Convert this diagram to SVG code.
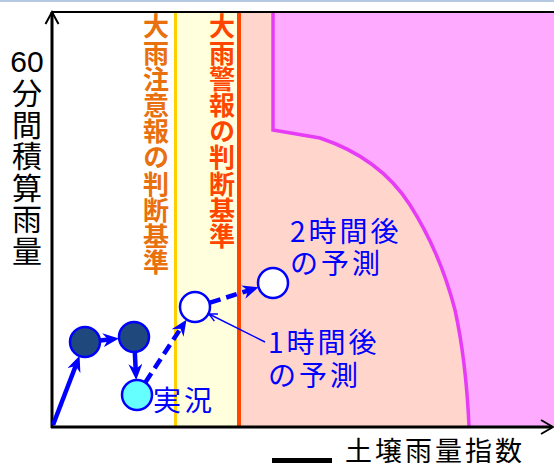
<svg xmlns="http://www.w3.org/2000/svg" width="554" height="463" viewBox="0 0 554 463">
<style>
.jp{font-family:"Noto Sans CJK JP","Noto Sans",sans-serif}
.blk{fill:#000}
.crit{font-size:26px;font-weight:bold;letter-spacing:0.2px}
.lbl{fill:#0000FF;font-size:28px;letter-spacing:3px}
.node{stroke:#0000FF;stroke-width:2.5}
.arr{stroke:#0000FF;stroke-width:4.5;fill:none}
</style>
<defs>
<marker id="ah" markerUnits="userSpaceOnUse" viewBox="0 0 16 14" markerWidth="16" markerHeight="14" refX="6" refY="7" orient="auto">
<path d="M0,0 L16,7 L0,14 L5,7 z" fill="#0000FF"/>
</marker>
<marker id="ahs" markerUnits="userSpaceOnUse" viewBox="0 0 10 10" markerWidth="10" markerHeight="10" refX="9" refY="5" orient="auto">
<path d="M1,1 L9,5 L1,9" fill="none" stroke="#0000FF" stroke-width="1.5"/>
</marker>
</defs>
<rect x="0" y="0" width="554" height="463" fill="#fff"/>
<rect x="0" y="0" width="554" height="2" fill="#B7C9E2"/>
<g id="zones">
<rect x="177" y="13" width="61" height="413" fill="#FFFFDD"/>
<rect x="240" y="13" width="314" height="413" fill="#FFD5CC"/>
<path d="M273,13 V130 L320,138 Q380,158 410,205 Q440,252 455,310 Q466,360 469,426 H554 V13 Z" fill="#FDAAFF"/>
<path d="M273,13 V130 L320,138 Q380,158 410,205 Q440,252 455,310 Q466,360 469,426" fill="none" stroke="#E63BF7" stroke-width="3.5"/>
<line x1="175.5" y1="13" x2="175.5" y2="426" stroke="#FFD000" stroke-width="3"/>
<line x1="239" y1="13" x2="239" y2="426" stroke="#FF4500" stroke-width="4"/>
</g>
<g id="axes" stroke="#000" fill="none">
<line x1="52" y1="12" x2="554" y2="12" stroke-width="2"/>
<line x1="52" y1="12" x2="52" y2="428" stroke-width="3"/>
<path d="M45.5,24 L52,12 L58.5,24" stroke-width="2"/>
<line x1="51" y1="427" x2="552" y2="427" stroke-width="3"/>
<path d="M541,420 L553,427 L541,434" stroke-width="2"/>
</g>
<g id="ylabel">
<text class="blk" x="27" y="72" text-anchor="middle" font-family="'Liberation Sans',sans-serif" font-size="30">60</text>
<text class="jp blk" x="27" y="78" writing-mode="vertical-rl" font-size="30" letter-spacing="1.5">分間積算雨量</text>
</g>
<g id="xlabel">
<rect x="272" y="458" width="60" height="6" fill="#000"/>
<text class="jp blk" x="345" y="461" font-size="27" letter-spacing="3">土壌雨量指数</text>
</g>
<g id="caution-label">
<text class="jp crit" fill="#E8700F" x="156" y="13.5" writing-mode="vertical-rl">大雨注意報の判断基準</text>
</g>
<g id="warning-label">
<text class="jp crit" fill="#FF4500" x="222" y="13.5" writing-mode="vertical-rl">大雨警報の判断基準</text>
</g>
<g id="connectors">
<line class="arr" x1="53" y1="425" x2="76" y2="365" marker-end="url(#ah)"/>
<line class="arr" x1="100" y1="340.5" x2="109" y2="339.5" marker-end="url(#ah)"/>
<line class="arr" x1="134.8" y1="352" x2="135.7" y2="370" marker-end="url(#ah)"/>
<line class="arr" x1="145.3" y1="382.5" x2="181" y2="328" stroke-dasharray="11,6" marker-end="url(#ah)"/>
<line class="arr" x1="210" y1="302.6" x2="249" y2="290.3" stroke-dasharray="11,6" marker-end="url(#ah)"/>
<line x1="265" y1="342" x2="209" y2="314" stroke="#0000FF" stroke-width="1.5" marker-end="url(#ahs)"/>
</g>
<g id="obs1"><circle class="node" cx="85" cy="342" r="15" fill="#1F497D"/></g>
<g id="obs2"><circle class="node" cx="134" cy="337" r="15" fill="#1F497D"/></g>
<g id="now"><circle class="node" cx="137" cy="395" r="15" fill="#66FFFF"/><text class="jp lbl" x="153" y="411">実況</text></g>
<g id="fc1"><circle class="node" cx="195" cy="307" r="15" fill="#fff"/><text class="jp lbl"><tspan x="268" y="353">1時間後</tspan><tspan x="268" y="386">の予測</tspan></text></g>
<g id="fc2"><circle class="node" cx="273" cy="283" r="15" fill="#fff"/><text class="jp lbl"><tspan x="290" y="242">2時間後</tspan><tspan x="290" y="274">の予測</tspan></text></g>
</svg>
